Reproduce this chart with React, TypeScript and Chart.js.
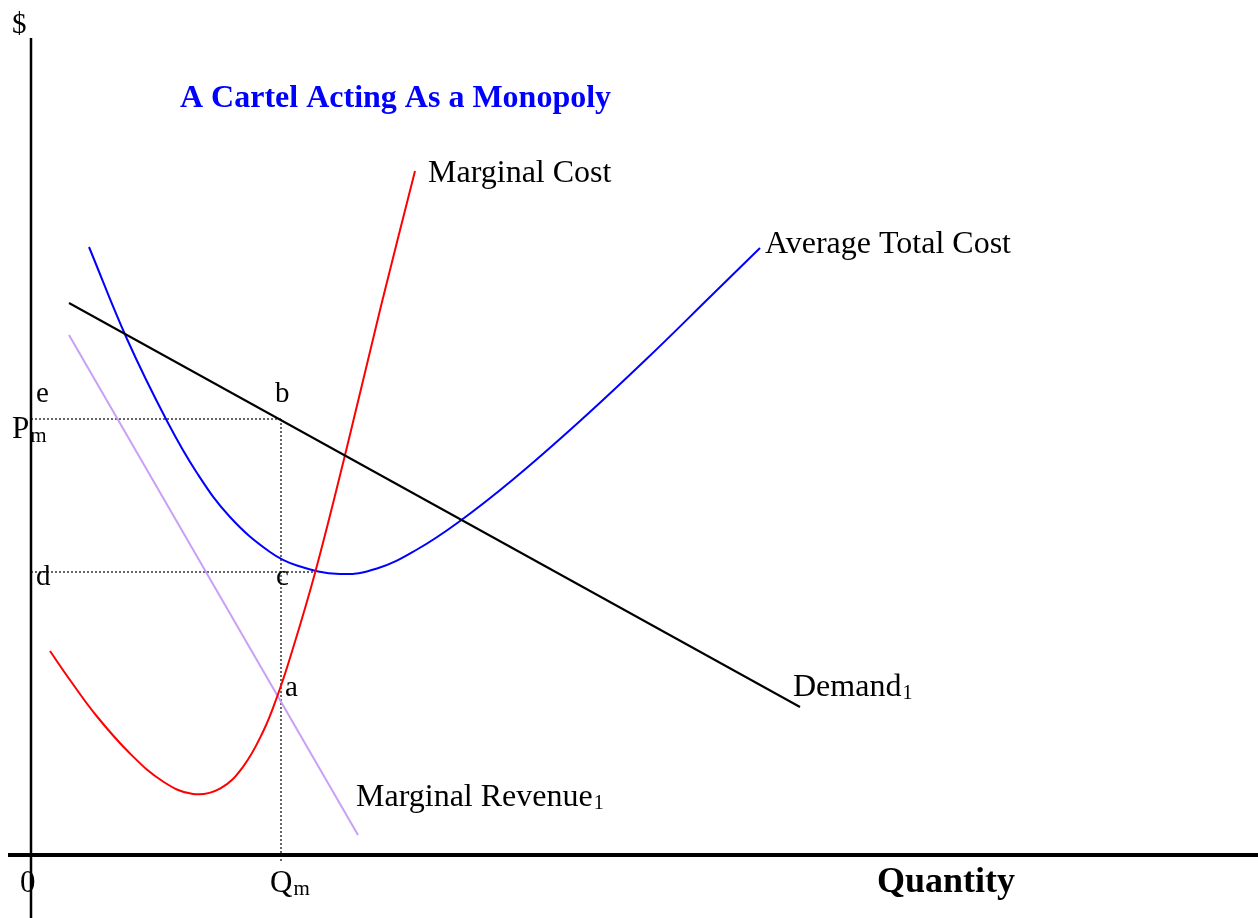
import React, { useEffect, useRef } from "react";
import { Chart, registerables } from "chart.js";

Chart.register(...registerables);

// Quantity (Q) and price (P) values
const demandQ = [3.8, 76.9];
const demandP = [55.2, 14.8];

const mrQ = [3.8, 32.7];
const mrP = [52.0, 2.0];

const mcQ = [1.9, 3.9, 6.6, 9.9, 13.2, 16.2, 18.9, 21.2, 23.2, 24.6, 25.9, 28.4, 31.6, 35.0, 38.4];
const mcP = [20.4, 17.5, 13.85, 10.15, 7.35, 6.1, 6.63, 8.82, 12.32, 15.8, 19.7, 28.2, 40.8, 54.9, 68.4];

const atcQ = [5.8, 9.6, 13.6, 16.6, 19.9, 23.9, 26.6, 30.9, 34.6, 38.6, 42.7, 48.2, 54.9, 61.6, 68.2, 72.9];
const atcP = [60.8, 51.6, 43.4, 38.2, 33.8, 30.3, 28.95, 28.1, 28.65, 30.55, 33.25, 37.55, 43.4, 49.65, 56.1, 60.7];

const Qm = 25.0;
const Pm = 43.6;
const costAtQm = 28.3; // level of d–c line
const dLineEndQ = 28.4;

const xRange = [-3.1, 122.7];
const yRange = [-6.3, 85.5];
const yAxisTop = 81.7;
const xAxisLeft = -2.3;

const pts = (xs: number[], ys: number[]) => xs.map((x, i) => ({ x, y: ys[i] }));

type Label = {
  text: string;
  sub?: string;
  q: number;
  p: number;
  size: number;
  bold?: boolean;
  color?: string;
  subSize?: number;
  subDrop?: number;
};

const labels: Label[] = [
  { text: "$", q: -1.9, p: 82.2, size: 29 },
  { text: "A Cartel Acting As a Monopoly", q: 14.9, p: 74.8, size: 32, bold: true, color: "#0000ff" },
  { text: "Marginal Cost", q: 39.7, p: 67.3, size: 32 },
  { text: "Average Total Cost", q: 73.4, p: 60.2, size: 32 },
  { text: "e", q: 0.5, p: 45.3, size: 29 },
  { text: "b", q: 24.4, p: 45.3, size: 29 },
  { text: "P", sub: "m", q: -1.9, p: 41.7, size: 31, subSize: 21, subDrop: 4 },
  { text: "d", q: 0.5, p: 27.0, size: 29 },
  { text: "c", q: 24.5, p: 27.0, size: 29 },
  { text: "a", q: 25.4, p: 15.9, size: 29 },
  { text: "Demand", sub: "1", q: 76.2, p: 15.9, size: 32, subSize: 20, subDrop: 3 },
  { text: "Marginal Revenue", sub: "1", q: 32.5, p: 4.9, size: 32, subSize: 20, subDrop: 3 },
  { text: "0", q: -1.1, p: -3.7, size: 31 },
  { text: "Q", sub: "m", q: 23.9, p: -3.7, size: 31, subSize: 21, subDrop: 3 },
  { text: "Quantity", q: 84.6, p: -3.7, size: 36, bold: true },
];

const FONT = "'Liberation Serif', 'Times New Roman', serif";

const labelPlugin = {
  id: "labels",
  afterDatasetsDraw(chart: any) {
    const { ctx, scales } = chart;
    const xs = scales.x;
    const ys = scales.y;
    ctx.save();
    ctx.textBaseline = "alphabetic";
    ctx.textAlign = "left";
    for (const l of labels) {
      const px = xs.getPixelForValue(l.q);
      const py = ys.getPixelForValue(l.p);
      ctx.fillStyle = l.color || "#000";
      ctx.font = `${l.bold ? "bold " : ""}${l.size}px ${FONT}`;
      ctx.fillText(l.text, px, py);
      if (l.sub) {
        const w = ctx.measureText(l.text).width;
        ctx.font = `${l.subSize || 20}px ${FONT}`;
        ctx.fillText(l.sub, px + w + 1, py + (l.subDrop || 3));
      }
    }
    ctx.restore();
  },
};

export default function App() {
  const ref = useRef<HTMLCanvasElement | null>(null);

  useEffect(() => {
    if (!ref.current) return;
    const line = (data: any[], color: string, width: number, extra: any = {}) => ({
      data,
      borderColor: color,
      borderWidth: width,
      showLine: true,
      pointRadius: 0,
      fill: false,
      tension: 0,
      ...extra,
    });
    const dotted = { borderDash: [2, 2] };
    const chart = new Chart(ref.current, {
      type: "scatter",
      data: {
        datasets: [
          line(pts(demandQ, demandP), "#000000", 2),
          line(pts(mcQ, mcP), "#ff0000", 2, { tension: 0.4 }),
          line(pts(atcQ, atcP), "#0000ff", 2, { tension: 0.4 }),
          line(pts(mrQ, mrP), "#c9a0f5", 2),
          line([{ x: 0, y: Pm }, { x: Qm, y: Pm }], "#000000", 1.2, dotted),
          line([{ x: 0, y: costAtQm }, { x: dLineEndQ, y: costAtQm }], "#000000", 1.2, dotted),
          line([{ x: Qm, y: Pm }, { x: Qm, y: -0.7 }], "#000000", 1.2, dotted),
          line([{ x: 0, y: yAxisTop }, { x: 0, y: yRange[0] }], "#000000", 2.5),
          line([{ x: xAxisLeft, y: 0 }, { x: xRange[1], y: 0 }], "#000000", 4),
        ],
      },
      options: {
        animation: false,
        responsive: false,
        maintainAspectRatio: false,
        layout: { padding: 0 },
        plugins: { legend: { display: false }, title: { display: false }, tooltip: { enabled: false } },
        scales: {
          x: { type: "linear", min: xRange[0], max: xRange[1], display: false },
          y: { type: "linear", min: yRange[0], max: yRange[1], display: false },
        },
      },
      plugins: [labelPlugin],
    });
    return () => chart.destroy();
  }, []);

  return (
    <div style={{ position: "fixed", left: 0, top: 0, width: 1258, height: 918, background: "#fff" }}>
      <canvas ref={ref} width={1258} height={918} style={{ width: 1258, height: 918, display: "block" }} />
    </div>
  );
}
